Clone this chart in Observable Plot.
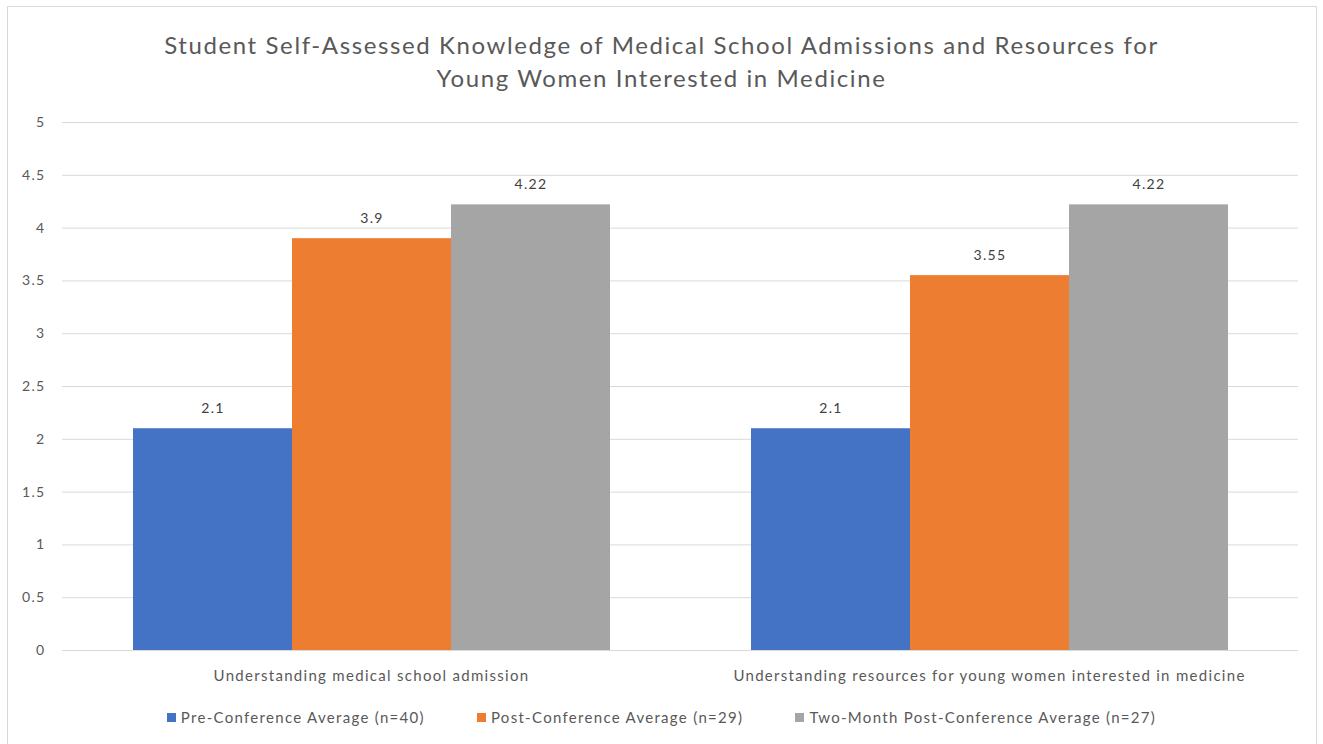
<!DOCTYPE html>
<html>
<head>
<meta charset="utf-8">
<script src="https://cdn.jsdelivr.net/npm/d3@7"></script>
<script src="https://cdn.jsdelivr.net/npm/@observablehq/plot@0.6"></script>
<style>
  html, body { margin: 0; padding: 0; background: #fff; }
  body { width: 1323px; height: 744px; position: relative; overflow: hidden; font-family: Lato, "Open Sans", sans-serif; }
  #frame { position: absolute; left: 7px; top: 6px; width: 1310px; height: 740px; border: 1px solid #d9d9d9; box-sizing: border-box; }
  #title { position: absolute; left: 0; top: 28px; width: 1323px; text-align: center; font-size: 24px; letter-spacing: 1.6px; line-height: 33px; color: #595959; }
  #chart { position: absolute; left: 0; top: 100px; }
  #legend { position: absolute; left: 0; top: 706px; width: 1323px; display: flex; justify-content: center; gap: 52px; font-size: 15px; letter-spacing: 1.3px; color: #595959; line-height: 22px; }
  #legend .item { display: flex; align-items: center; gap: 5px; }
  #legend .sw { width: 9px; height: 9px; display: inline-block; }
  #chart svg text { letter-spacing: 1.3px; }
</style>
</head>
<body>
<div id="frame"></div>
<div id="title">Student Self-Assessed Knowledge of Medical School Admissions and Resources for<br>Young Women Interested in Medicine</div>
<div id="chart"></div>
<div id="legend"></div>
<script>
const categories = ["Understanding medical school admission", "Understanding resources for young women interested in medicine"];
const series = ["Pre-Conference Average (n=40)", "Post-Conference Average (n=29)", "Two-Month Post-Conference Average (n=27)"];
const colors = ["#4472C4", "#ED7D31", "#A5A5A5"];
const preValues = [2.1, 2.1];
const postValues = [3.9, 3.55];
const twoMonthValues = [4.22, 4.22];
const yTicks = [0, 0.5, 1, 1.5, 2, 2.5, 3, 3.5, 4, 4.5, 5];

const valuesBySeries = [preValues, postValues, twoMonthValues];
const data = [];
categories.forEach((c, i) => {
  series.forEach((s, j) => data.push({category: c, series: s, value: valuesBySeries[j][i]}));
});

const chart = Plot.plot({
  width: 1323,
  height: 590,
  marginLeft: 62,
  marginRight: 25,
  marginTop: 22,
  marginBottom: 40,
  style: {fontFamily: "Lato, 'Open Sans', sans-serif", fontSize: "14px", color: "#595959", background: "transparent"},
  fx: {domain: categories, padding: 0, label: null, axis: "bottom", tickSize: 0, tickPadding: 20},
  x: {domain: series, paddingInner: 0, paddingOuter: 0.443, axis: null},
  y: {domain: [0, 5], ticks: yTicks, label: null, tickSize: 0, tickPadding: 17, tickFormat: d => String(d)},
  color: {domain: series, range: colors},
  marks: [
    Plot.gridY(yTicks, {stroke: "#d9d9d9", strokeOpacity: 1, strokeWidth: 1}),
    Plot.barY(data, {fx: "category", x: "series", y: "value", fill: "series"}),
    Plot.text(data, {fx: "category", x: "series", y: "value", text: d => String(d.value), dy: -20, fill: "#404040", fontSize: 14})
  ]
});
chart.querySelectorAll("g[aria-label='fx-axis tick label'] text, g[aria-label='fx-axis tick label']").forEach(el => el.setAttribute("font-size", "15"));
document.getElementById("chart").appendChild(chart);

const legend = document.getElementById("legend");
series.forEach((s, i) => {
  const item = document.createElement("div");
  item.className = "item";
  const sw = document.createElement("span");
  sw.className = "sw";
  sw.style.background = colors[i];
  const label = document.createElement("span");
  label.textContent = s;
  item.appendChild(sw);
  item.appendChild(label);
  legend.appendChild(item);
});
</script>
</body>
</html>
